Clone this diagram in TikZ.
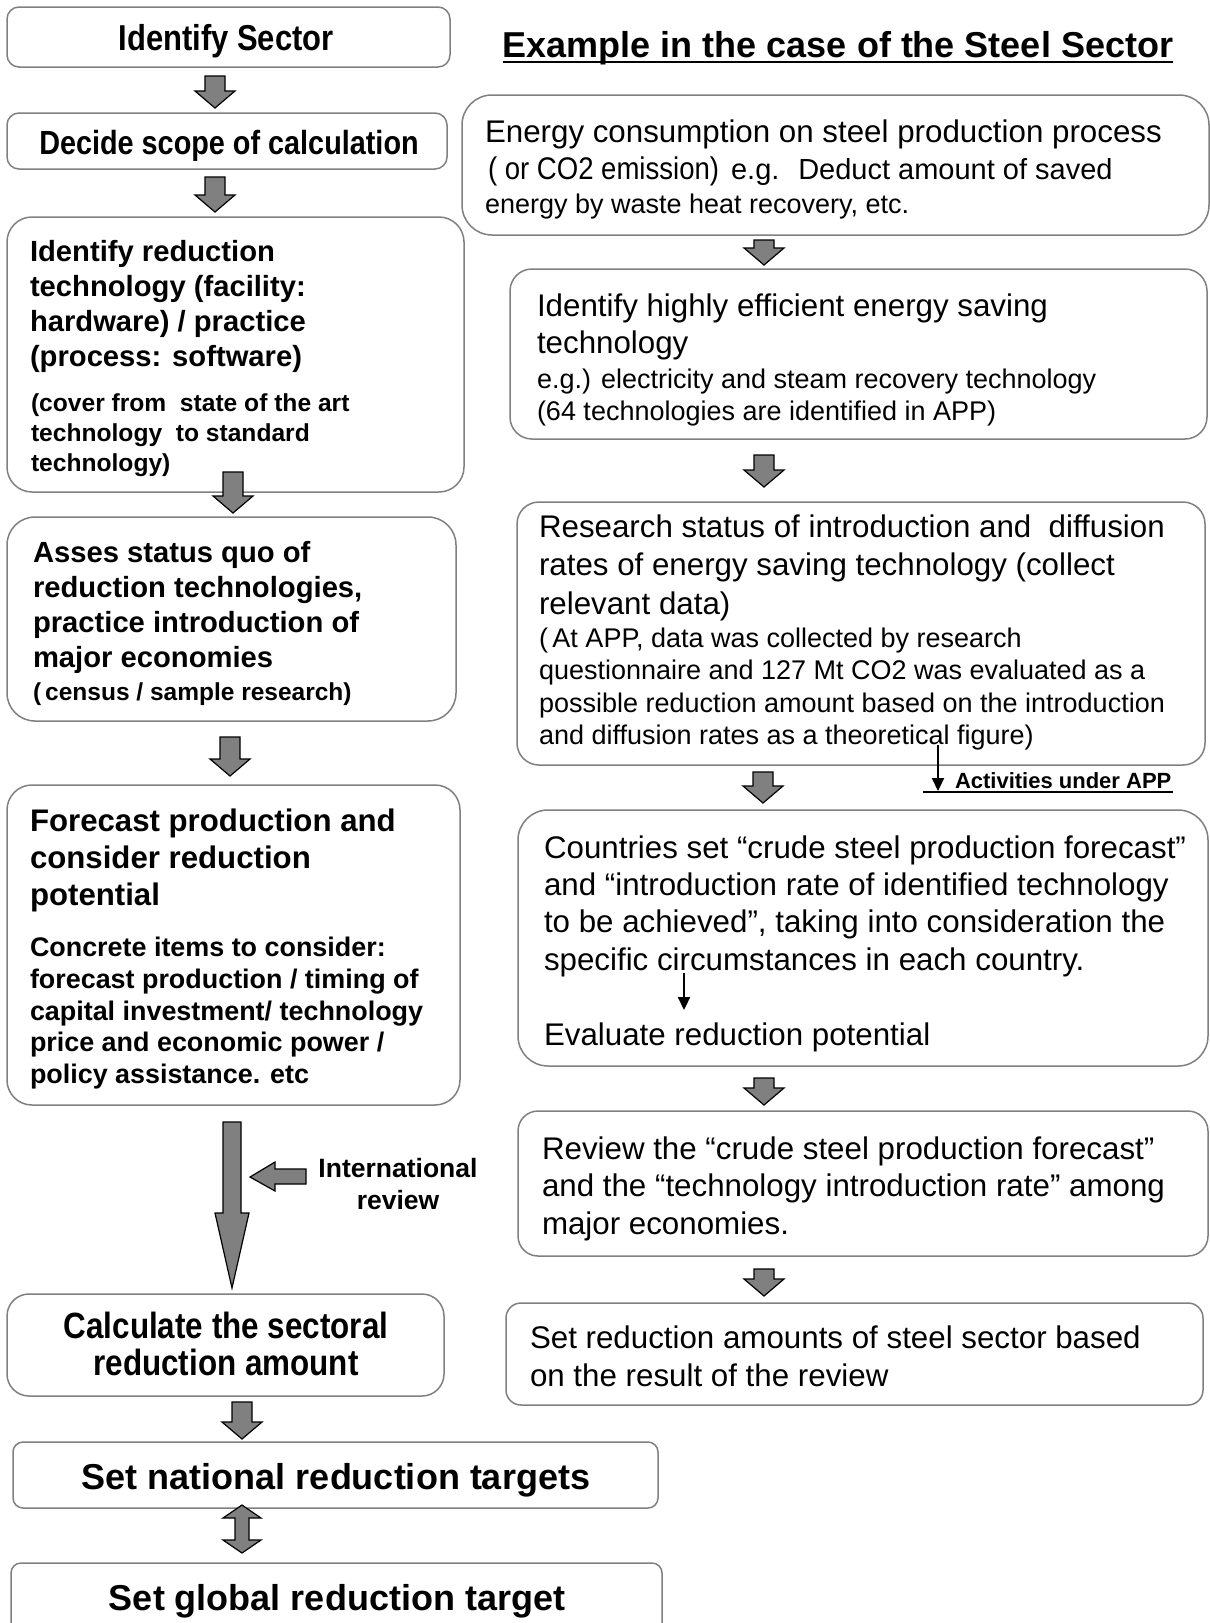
\documentclass[tikz,border=0pt]{standalone}
\usepackage{fontspec}
\usepackage{graphicx}
\setmainfont{Liberation Sans}
\newfontfamily\condb{Liberation Sans}[FakeStretch=0.86]
\usetikzlibrary{arrows.meta}
\newcommand\fs[2]{\fontsize{#1}{#2}\selectfont}
\tikzset{
  box/.style={draw=black!50, line width=1.5pt, fill=none, inner sep=0pt, outer sep=0pt},
  txt/.style={inner sep=0pt, outer sep=0pt, anchor=base west},
  ctxt/.style={inner sep=0pt, outer sep=0pt, anchor=base},
  barrow/.style={draw=black, line width=1.2pt, fill=black!50, line join=miter},
  thinarrow/.style={line width=2.2pt, -{Triangle[length=13pt,width=12pt]}},
  hbig/.style={font=\bfseries\fs{29.2}{35}},
  hsmall/.style={font=\bfseries\fs{24.6}{30}},
  rbig/.style={font=\fs{31.3}{37}},
  rsmall/.style={font=\fs{27}{32}}
}
\newcommand\boxn[6]{%
  \pgfmathsetmacro\bw{#4-#2}\pgfmathsetmacro\bh{#5-#3}%
  \pgfmathsetmacro\bx{(#2+#4)/2}\pgfmathsetmacro\by{(#3+#5)/2}%
  \node[box, rounded corners=#6pt, minimum width=\bw pt, minimum height=\bh pt] (#1) at (\bx,\by) {};}
\newcommand\textlines[6]{%
  \foreach \ln [count=\i] in {#6} {\node[txt,#2] (#1-\i) at ({#3},{#4+(\i-1)*#5}) {\ln};}}
\newcommand\dnarrow[3]{%
  \draw[barrow] ({#1-10},{#2}) -- ({#1+10},{#2}) -- ({#1+10},{#3-17}) -- ({#1+20},{#3-17})
    -- ({#1},{#3}) -- ({#1-20},{#3-17}) -- ({#1-10},{#3-17}) -- cycle;}
\begin{document}
\begin{tikzpicture}[x=1pt,y=-1pt]
\fill[white] (0,0) rectangle (1210,1623);
\useasboundingbox (0,0) rectangle (1210,1623);

% ---------- left column boxes ----------
\boxn{b1}{7}{7}{450}{67}{12}
\boxn{b2}{7}{113}{447}{169}{12}
\boxn{b3}{7}{217}{464}{492}{25}
\boxn{b4}{7}{517}{456}{721}{28}
\boxn{b5}{7}{785}{460}{1105}{25}
\boxn{b6}{7}{1294}{444}{1396}{22}
\boxn{b7}{13}{1442}{658}{1508}{10}
\boxn{b8}{11}{1563}{662}{1645}{10}

% ---------- right column boxes ----------
\boxn{r1}{462}{95}{1209}{235}{30}
\boxn{r2}{510}{269}{1207}{439}{22}
\boxn{r3}{517}{502}{1205}{765}{22}
\boxn{r4}{518}{810}{1208}{1066}{30}
\boxn{r5}{518}{1111}{1208}{1256}{20}
\boxn{r6}{506}{1303}{1203}{1405}{15}

% ---------- left texts ----------
\node[ctxt, font=\condb\bfseries\fs{36}{40}] (t1) at (226,50) {Identify Sector};
\node[ctxt, font=\condb\bfseries\fs{33.5}{38}] (t2) at (229,154) {Decide scope of calculation};
\textlines{t3}{hbig}{30}{261.7}{35}{{Identify reduction},{technology (facility:},{hardware) / practice},{(process: software)}}
\textlines{t3s}{hsmall}{31}{411.7}{30}{{(cover from~ state of the art},{technology~ to standard},{technology)}}
\textlines{t4}{hbig}{33}{562}{35.2}{{Asses status quo of},{reduction technologies,},{practice introduction of},{major economies}}
\node[txt, font=\bfseries\fs{24.5}{30}] (t4s) at (33,700) {(\,census / sample research)};
\textlines{t5}{font=\bfseries\fs{31.2}{37}}{30}{831.7}{36.7}{{Forecast production and},{consider reduction},{potential}}
\textlines{t5s}{font=\bfseries\fs{26.9}{32}}{30}{956.7}{31.65}{{Concrete items to consider:},{forecast production / timing of},{capital investment/ technology},{price and economic power /},{policy assistance. etc}}
\node[ctxt, font=\bfseries\fs{26.5}{32}] (ir1) at (398,1177) {International};
\node[ctxt, font=\bfseries\fs{26.5}{32}] (ir2) at (398,1209) {review};
\node[ctxt, font=\condb\bfseries\fs{36.5}{40}] (t6a) at (226,1338) {Calculate the sectoral};
\node[ctxt, font=\condb\bfseries\fs{36.5}{40}] (t6b) at (226,1375) {reduction amount};
\node[ctxt, font=\bfseries\fs{36}{40}] (t7) at (336,1489) {Set national reduction targets};
\node[ctxt, font=\bfseries\fs{36}{40}] (t8) at (337,1610) {Set global reduction target};

% ---------- title ----------
\node[ctxt, font=\bfseries\fs{36}{40}] (title) at (838,57) {Example in the case of the Steel Sector};
\draw[line width=2pt] ([yshift=-5pt]title.base west) -- ([yshift=-5pt]title.base east);

% ---------- right texts ----------
\node[txt, rbig] (s1a) at (485,142) {Energy consumption on steel production process};
\node[txt, rbig] (s1b) at (488,179) {\scalebox{0.88}[1]{( or CO2 emission)}\hspace{12pt}{\fs{29}{34}e.g.~ Deduct amount of saved}};
\node[txt, rsmall] (s1c) at (485,213) {energy by waste heat recovery, etc.};
\textlines{s2}{rbig}{537}{316}{37.5}{{Identify highly efficient energy saving},{technology}}
\textlines{s2s}{rsmall}{537}{388}{32}{{e.g.) electricity and steam recovery technology},{(64 technologies are identified in APP)}}
\textlines{s3}{rbig}{539}{537}{38.5}{{Research status of introduction and~ diffusion},{rates of energy saving technology (collect},{relevant data)}}
\textlines{s3s}{rsmall}{539}{647}{32.5}{{(\,At APP, data was collected by research},{questionnaire and 127 Mt CO2 was evaluated as a},{possible reduction amount based on the introduction},{and diffusion rates as a theoretical figure)}}
\textlines{s4}{rbig}{544}{858}{37.4}{{Countries set “crude steel production forecast”},{and “introduction rate of identified technology},{to be achieved”, taking into consideration the},{specific circumstances in each country.}}
\node[txt, rbig] (s4e) at (544,1045) {Evaluate reduction potential};
\textlines{s5}{rbig}{542}{1159}{37.5}{{Review the “crude steel production forecast”},{and the “technology introduction rate” among},{major economies.}}
\textlines{s6}{rbig}{530}{1348}{38}{{Set reduction amounts of steel sector based},{on the result of the review}}

% ---------- activities under APP ----------
\node[txt, font=\bfseries\fs{22}{26}] (app) at (955,788) {Activities under APP};
\coordinate (u1) at (923,792);
\coordinate (u2) at (1173,792);
\draw[line width=1.5pt] (u1) -- (u2);
\coordinate (aa1) at (938,745);
\coordinate (aa2) at (938,791);
\draw[thinarrow] (aa1) -- (aa2);
\coordinate (ev1) at (684,973);
\coordinate (ev2) at (684,1010);
\draw[thinarrow] (ev1) -- (ev2);

% ---------- block arrows left ----------
\dnarrow{215}{76}{108}
\dnarrow{215}{177}{212}
\dnarrow{233}{472}{513}
\dnarrow{230}{737}{776}
\dnarrow{242}{1402}{1439}
% double arrow
\draw[barrow] (242,1505) -- (261,1518) -- (249,1518) -- (249,1540) -- (261,1540) -- (242,1553)
  -- (223,1540) -- (235,1540) -- (235,1518) -- (223,1518) -- cycle;
% big arrow
\draw[barrow] (223,1122) -- (241,1122) -- (241,1213) -- (249,1213) -- (232,1288) -- (215,1213)
  -- (223,1213) -- cycle;
% left arrow (international review)
\draw[barrow] (306,1169) -- (306,1184) -- (275,1184) -- (275,1191) -- (250,1177) -- (275,1162)
  -- (275,1169) -- cycle;

% ---------- block arrows right ----------
\dnarrow{764}{240}{265}
\dnarrow{764}{455}{487}
\dnarrow{763}{772}{803}
\dnarrow{764}{1078}{1105}
\dnarrow{764}{1269}{1296}
\end{tikzpicture}
\end{document}
